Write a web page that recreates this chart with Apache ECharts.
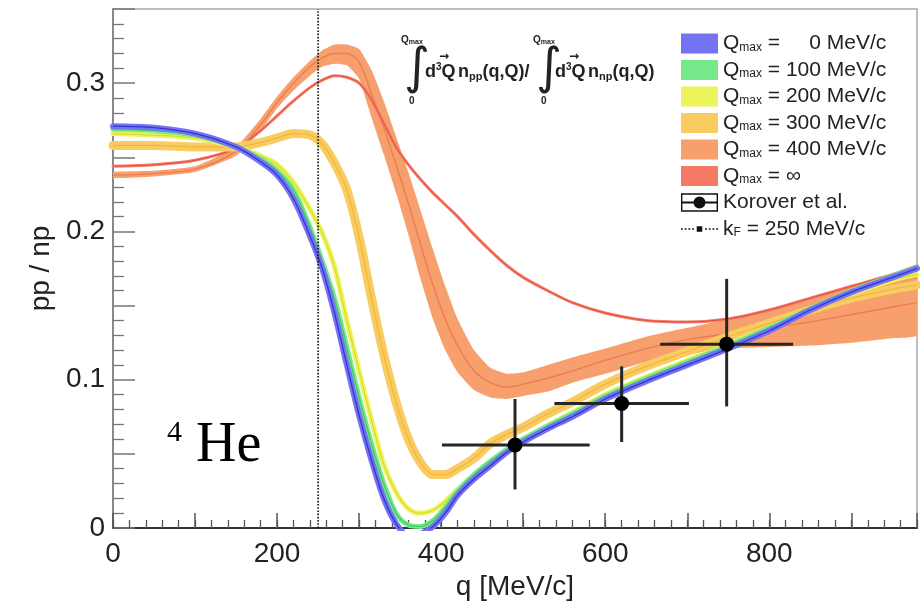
<!DOCTYPE html>
<html><head><meta charset="utf-8">
<script src="https://cdn.jsdelivr.net/npm/echarts@6/dist/echarts.min.js"></script>
<style>html,body{margin:0;padding:0;background:#fff}#c{width:920px;height:608px}</style>
</head><body><div id="c"></div>
<script>
// ---------- data ----------
const Q = [0,50,100,150,180, 200,220,240,255,270, 285,300,315,330,345, 360,375,390,405,420, 440,460,480,500,530, 560,600,650,700,750, 800,850,900,950,980];
const rQ0 = [0.271,0.270,0.266,0.257,0.247, 0.238,0.222,0.197,0.175,0.145, 0.110,0.076,0.046,0.020,0.003, -0.005,-0.004,0.001,0.010,0.022, 0.033,0.042,0.051,0.058,0.067, 0.075,0.087,0.099,0.110,0.121, 0.133,0.147,0.159,0.169,0.175];
const rQ100 = [0.269,0.268,0.265,0.257,0.249, 0.241,0.228,0.203,0.180,0.155, 0.122,0.088,0.057,0.030,0.010, 0.002,0.001,0.005,0.014,0.025, 0.036,0.045,0.053,0.060,0.069, 0.077,0.089,0.101,0.112,0.123, 0.135,0.148,0.160,0.170,0.176];
const rQ200 = [0.266,0.265,0.263,0.257,0.251, 0.245,0.233,0.215,0.199,0.176, 0.140,0.106,0.073,0.043,0.024, 0.013,0.010,0.012,0.018,0.026, 0.033,0.042,0.051,0.059,0.069, 0.078,0.090,0.102,0.113,0.124, 0.135,0.147,0.158,0.167,0.171];
const rQ300 = [0.258,0.258,0.257,0.257,0.260, 0.263,0.266,0.265,0.259,0.246, 0.228,0.196,0.155,0.117,0.085, 0.060,0.044,0.036,0.036,0.040, 0.047,0.057,0.063,0.068,0.077, 0.085,0.097,0.109,0.119,0.129, 0.138,0.147,0.155,0.161,0.164];
const rQ400 = [0.238,0.239,0.242,0.254,0.272, 0.287,0.300,0.311,0.317,0.320, 0.320,0.314,0.293,0.270,0.245, 0.219,0.191,0.164,0.141,0.123, 0.106,0.098,0.095,0.097,0.101, 0.106,0.113,0.121,0.127,0.131, 0.135,0.139,0.144,0.149,0.152];
const rQ400hi = [0.240,0.241,0.244,0.257,0.276, 0.291,0.304,0.315,0.322,0.326, 0.326,0.323,0.309,0.288,0.264, 0.240,0.214,0.188,0.163,0.141, 0.120,0.108,0.104,0.105,0.110, 0.115,0.121,0.129,0.135,0.141, 0.148,0.155,0.163,0.171,0.176];
const rQ400lo = [0.236,0.237,0.240,0.251,0.268, 0.283,0.295,0.305,0.311,0.313, 0.312,0.303,0.277,0.252,0.226, 0.198,0.168,0.141,0.120,0.105, 0.093,0.088,0.087,0.089,0.092, 0.098,0.104,0.112,0.117,0.121, 0.122,0.123,0.125,0.128,0.130];
const rQinf = [0.244,0.245,0.248,0.256,0.268, 0.278,0.288,0.297,0.302,0.305, 0.304,0.300,0.289,0.273,0.257, 0.245,0.235,0.226,0.218,0.210, 0.198,0.187,0.177,0.169,0.160, 0.152,0.145,0.140,0.139,0.141, 0.147,0.155,0.163,0.171,0.177];

const korQ = [490, 620, 748];
const korR = [0.056, 0.084, 0.124];
const korQlo = [401, 538, 667];
const korQhi = [581, 702, 829];
const korRlo = [0.026, 0.058, 0.082];
const korRhi = [0.087, 0.109, 0.168];

const kfQ = [250, 250];
const kfR = [0, 0.35];

const xTickLabels = [0, 200, 400, 600, 800];
const yTickLabels = [0, 0.1, 0.2, 0.3];

// ---------- chart ----------
const FONT = 'Liberation Sans';
const pts = arr => Q.map((q, i) => [q, arr[i]]);

function band(name, arr, color, width) {
  return { name, type: 'line', data: pts(arr), smooth: 0.3, symbol: 'none', color,
    lineStyle: { width, color, cap: 'round', join: 'round' }, clip: true, silent: true };
}
function centre(arr, color, width) {
  return { type: 'line', data: pts(arr), smooth: 0.3, symbol: 'none', color,
    lineStyle: { width: width || 1.3, color }, clip: true, silent: true };
}

const series = [
  { name: 'Q400', type: 'custom', silent: true, clip: true,
    itemStyle: { color: '#f7a06e' },
    data: Q.map((q, i) => [q, rQ400lo[i], rQ400hi[i]]),
    encode: { x: 0, y: [1, 2] },
    renderItem: function (params, api) {
      if (params.dataIndex !== 0) return null;
      const up = Q.map((q, i) => api.coord([q, rQ400hi[i]]));
      const lo = Q.map((q, i) => api.coord([q, rQ400lo[i]])).reverse();
      return { type: 'polygon', shape: { points: up.concat(lo), smooth: 0.15 },
        style: { fill: '#f7a06e', stroke: null } };
    } },
  centre(rQ400, '#ec7c52', 1.4),
  band('Qinf', rQinf, '#f47a66', 3),
  centre(rQinf, '#e4503f', 1),
  band('Q300', rQ300, '#f9cc62', 9),
  centre(rQ300, '#f2b43e', 1.2),
  band('Q200', rQ200, '#edf35c', 5),
  centre(rQ200, '#d8de2c', 1.2),
  band('Q100', rQ100, '#76e88c', 5),
  centre(rQ100, '#3ccf62', 1.2),
  band('Q0', rQ0, '#7474f2', 6),
  centre(rQ0, '#3434d0', 1.3),
  { name: 'kF', type: 'line', z: 6, data: kfQ.map((q, i) => [q, kfR[i]]), symbol: 'none', color: '#111',
    lineStyle: { type: 'dotted', width: 1.6, color: '#111' }, silent: true },
  { name: 'Korover', type: 'custom', z: 8, itemStyle: { color: '#111' }, silent: true,
    data: korQ.map((q, i) => [q, korR[i], korQlo[i], korQhi[i], korRlo[i], korRhi[i]]),
    encode: { x: 0, y: 1 },
    renderItem: function (params, api) {
      const c = api.coord([api.value(0), api.value(1)]);
      const l = api.coord([api.value(2), api.value(1)]);
      const r = api.coord([api.value(3), api.value(1)]);
      const b = api.coord([api.value(0), api.value(4)]);
      const t = api.coord([api.value(0), api.value(5)]);
      return { type: 'group', children: [
        { type: 'line', shape: { x1: l[0], y1: l[1], x2: r[0], y2: r[1] }, style: { stroke: '#262626', lineWidth: 3 } },
        { type: 'line', shape: { x1: b[0], y1: b[1], x2: t[0], y2: t[1] }, style: { stroke: '#262626', lineWidth: 3 } },
        { type: 'circle', shape: { cx: c[0], cy: c[1], r: 7.5 }, style: { fill: '#000' } }
      ] };
    } }
];

const korPath = 'path://M0,0L40,0L40,20L0,20Z M1.5,1.5L1.5,18.5L38.5,18.5L38.5,1.5Z M0,9L40,9L40,11L0,11Z M26.5,10A6.5,6.5 0 1 1 13.5,10A6.5,6.5 0 1 1 26.5,10Z';
const kfPath = 'path://M20,0L20,0Z M20,20L20,20Z M0,9.3L2,9.3L2,10.7L0,10.7Z M4,9.3L6,9.3L6,10.7L4,10.7Z M8,9.3L10,9.3L10,10.7L8,10.7Z M12,9.3L14,9.3L14,10.7L12,10.7Z M17,7L23,7L23,13L17,13Z M26,9.3L28,9.3L28,10.7L26,10.7Z M30,9.3L32,9.3L32,10.7L30,10.7Z M34,9.3L36,9.3L36,10.7L34,10.7Z M38,9.3L40,9.3L40,10.7L38,10.7Z';

const legendText = {
  Q0: '{q|Q}{s|max}{t| =     0 MeV/c}',
  Q100: '{q|Q}{s|max}{t| = 100 MeV/c}',
  Q200: '{q|Q}{s|max}{t| = 200 MeV/c}',
  Q300: '{q|Q}{s|max}{t| = 300 MeV/c}',
  Q400: '{q|Q}{s|max}{t| = 400 MeV/c}',
  Qinf: '{q|Q}{s|max}{t| = ∞}',
  Korover: '{t|Korover et al.}',
  kF: '{t|k}{s|F}{t| = 250 MeV/c}'
};

const isTick = (v, list) => list.some(t => Math.abs(t - v) < 1e-9);
const LF = 21;

const option = {
  animation: false,
  backgroundColor: '#fff',
  grid: { left: 113, right: 2, top: 9, bottom: 80, show: true, borderColor: '#aaa', borderWidth: 1.5 },
  xAxis: [
    { type: 'value', min: 0, max: 980, interval: 100, position: 'bottom',
      axisLine: { show: true, onZero: false, lineStyle: { color: '#333', width: 2 } },
      axisTick: { show: true, inside: true, length: 15, lineStyle: { color: '#555', width: 1.5 } },
      minorTick: { show: false },
      splitLine: { show: false },
      axisLabel: { formatter: v => isTick(v, xTickLabels) ? String(v) : '', fontSize: 28, color: '#222', fontFamily: FONT, margin: 12 },
      name: 'q [MeV/c]', nameLocation: 'middle', nameGap: 37,
      nameTextStyle: { fontSize: 28, color: '#222', fontFamily: FONT } },
    { type: 'value', min: 0, max: 980, interval: 20, position: 'bottom', offset: 0,
      axisLine: { show: false }, axisLabel: { show: false }, splitLine: { show: false },
      axisTick: { show: true, inside: true, length: 8, lineStyle: { color: '#555', width: 1.3 } } }
  ],
  yAxis: { type: 'value', min: 0, max: 0.35, interval: 0.05,
    axisLine: { show: true, lineStyle: { color: '#777', width: 1.5 } },
    axisTick: { show: true, inside: true, length: 22, lineStyle: { color: '#777', width: 1.5 } },
    minorTick: { show: true, splitNumber: 5, length: 11, lineStyle: { color: '#777', width: 1.3 } },
    splitLine: { show: false },
    axisLabel: { formatter: v => isTick(v, yTickLabels) ? (v === 0 ? '0' : v.toFixed(1)) : '', fontSize: 28, color: '#222', fontFamily: FONT, margin: 8 },
    name: 'pp / np', nameLocation: 'middle', nameGap: 57, nameRotate: 90,
    nameTextStyle: { fontSize: 28, color: '#222', fontFamily: FONT } },
  legend: { show: true, orient: 'vertical', left: 676, top: 28, itemWidth: 37, itemHeight: 20, itemGap: 5.5,
    selectedMode: false, itemStyle: { borderWidth: 0 },
    data: [
      { name: 'Q0', icon: 'rect' }, { name: 'Q100', icon: 'rect' }, { name: 'Q200', icon: 'rect' },
      { name: 'Q300', icon: 'rect' }, { name: 'Q400', icon: 'rect' }, { name: 'Qinf', icon: 'rect' },
      { name: 'Korover', icon: korPath }, { name: 'kF', icon: kfPath }
    ],
    formatter: n => legendText[n],
    textStyle: { fontSize: LF, color: '#222', fontFamily: FONT,
      rich: {
        q: { fontSize: LF, fontFamily: FONT, color: '#222', lineHeight: 20, verticalAlign: 'middle' },
        t: { fontSize: LF, fontFamily: FONT, color: '#222', lineHeight: 20, verticalAlign: 'middle' },
        s: { fontSize: 12, fontFamily: FONT, color: '#222', verticalAlign: 'bottom', lineHeight: 13, padding: [8, 0, 0, 0] }
      } } },
  graphic: [
    // formula
    { type: 'text', x: 404, y: 70, style: { text: '∫', fontSize: 50, fontFamily: 'DejaVu Sans', fill: '#222', verticalAlign: 'middle' } },
    { type: 'text', x: 401, y: 40, style: { text: '{a|Q}{b|max}', fill: '#222', verticalAlign: 'middle', rich: { a: { fontSize: 10, fontWeight: 'bold', fontFamily: FONT }, b: { fontSize: 7, fontWeight: 'bold', fontFamily: FONT, verticalAlign: 'bottom', padding: [4,0,0,0] } } } },
    { type: 'text', x: 409, y: 101, style: { text: '0', fontSize: 10, fontWeight: 'bold', fontFamily: FONT, fill: '#222', verticalAlign: 'middle' } },
    { type: 'text', x: 425, y: 72, style: { text: 'd{p|3}Q', fill: '#222', verticalAlign: 'middle', rich: { p: { fontSize: 10, fontWeight: 'bold', fontFamily: FONT, verticalAlign: 'top', padding: [0,0,9,0] } }, fontSize: 18, fontWeight: 'bold', fontFamily: FONT } },
    { type: 'text', x: 439, y: 57, style: { text: '→', fontSize: 12, fontWeight: 'bold', fontFamily: 'DejaVu Sans', fill: '#222', verticalAlign: 'middle' } },
    { type: 'text', x: 458, y: 72, style: { text: 'n{b|pp}(q,Q)/', fill: '#222', verticalAlign: 'middle', fontSize: 18, fontWeight: 'bold', fontFamily: FONT, rich: { b: { fontSize: 11, fontWeight: 'bold', fontFamily: FONT, verticalAlign: 'bottom', padding: [9,0,0,0] } } } },
    { type: 'text', x: 536, y: 70, style: { text: '∫', fontSize: 50, fontFamily: 'DejaVu Sans', fill: '#222', verticalAlign: 'middle' } },
    { type: 'text', x: 533, y: 40, style: { text: '{a|Q}{b|max}', fill: '#222', verticalAlign: 'middle', rich: { a: { fontSize: 10, fontWeight: 'bold', fontFamily: FONT }, b: { fontSize: 7, fontWeight: 'bold', fontFamily: FONT, verticalAlign: 'bottom', padding: [4,0,0,0] } } } },
    { type: 'text', x: 541, y: 101, style: { text: '0', fontSize: 10, fontWeight: 'bold', fontFamily: FONT, fill: '#222', verticalAlign: 'middle' } },
    { type: 'text', x: 555, y: 72, style: { text: 'd{p|3}Q', fill: '#222', verticalAlign: 'middle', rich: { p: { fontSize: 10, fontWeight: 'bold', fontFamily: FONT, verticalAlign: 'top', padding: [0,0,9,0] } }, fontSize: 18, fontWeight: 'bold', fontFamily: FONT } },
    { type: 'text', x: 569, y: 57, style: { text: '→', fontSize: 12, fontWeight: 'bold', fontFamily: 'DejaVu Sans', fill: '#222', verticalAlign: 'middle' } },
    { type: 'text', x: 588, y: 72, style: { text: 'n{b|np}(q,Q)', fill: '#222', verticalAlign: 'middle', fontSize: 18, fontWeight: 'bold', fontFamily: FONT, rich: { b: { fontSize: 11, fontWeight: 'bold', fontFamily: FONT, verticalAlign: 'bottom', padding: [9,0,0,0] } } } },
    // 4He
    { type: 'text', x: 167, y: 433, style: { text: '4', fontSize: 30, fontFamily: 'Liberation Serif', fill: '#000', verticalAlign: 'middle' } },
    { type: 'text', x: 196, y: 446, style: { text: 'He', fontSize: 56, fontFamily: 'Liberation Serif', fill: '#000', verticalAlign: 'middle' } }
  ],
  series
};

const chart = echarts.init(document.getElementById('c'), null, { renderer: 'canvas' });
chart.setOption(option);
</script>
</body></html>
